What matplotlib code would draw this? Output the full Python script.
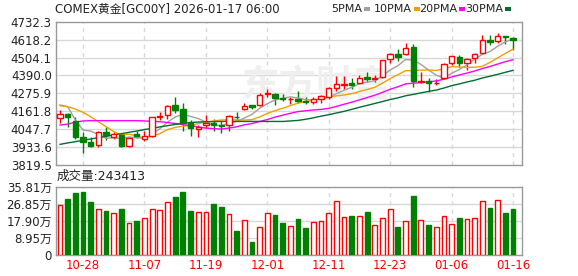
import numpy as np
import matplotlib
matplotlib.use("Agg")
import matplotlib.pyplot as plt
from matplotlib.patches import Rectangle

plt.rcParams['font.family'] = ['DejaVu Sans', 'Noto Sans CJK SC']

# ---------------- data ----------------
opens = [4117, 4144, 4102, 4000, 3968, 3947, 4032, 4000, 4011, 3942,
         4017, 3983, 4004, 4123, 4138, 4202, 4176, 4087, 4047, 4074,
         4085, 4074, 4074, 4127, 4174, 4202, 4202, 4270, 4272, 4244,
         4238, 4238, 4229, 4223, 4238, 4254, 4310, 4327, 4340, 4340,
         4378, 4365, 4378, 4493, 4524, 4526, 4569, 4348, 4356, 4342,
         4372, 4467, 4505, 4471, 4499, 4535, 4616, 4609, 4641, 4630]
highs = [4170, 4148, 4123, 4032, 4000, 4038, 4063, 4031, 4021, 3996,
         4036, 4038, 4127, 4159, 4202, 4251, 4212, 4104, 4075, 4138,
         4110, 4101, 4138, 4159, 4216, 4202, 4276, 4302, 4276, 4271,
         4254, 4293, 4250, 4254, 4267, 4314, 4384, 4386, 4372, 4391,
         4414, 4393, 4488, 4531, 4558, 4595, 4590, 4414, 4372, 4365,
         4471, 4514, 4520, 4499, 4535, 4648, 4648, 4662, 4641, 4637]
lows = [4085, 4060, 3983, 3898, 3934, 3936, 3979, 3983, 3936, 3936,
        3990, 3970, 4000, 4106, 4110, 4149, 4038, 4004, 4000, 4053,
        4038, 4021, 4038, 4101, 4170, 4174, 4195, 4251, 4202, 4229,
        4208, 4212, 4208, 4208, 4212, 4238, 4290, 4302, 4302, 4338,
        4350, 4350, 4372, 4467, 4482, 4520, 4318, 4340, 4286, 4329,
        4365, 4456, 4446, 4425, 4471, 4531, 4584, 4598, 4590, 4552]
closes = [4142, 4127, 4000, 3968, 3940, 4032, 4011, 4015, 3942, 3990,
          4004, 4004, 4123, 4132, 4197, 4170, 4089, 4058, 4064, 4085,
          4076, 4068, 4132, 4123, 4195, 4191, 4265, 4276, 4244, 4240,
          4242, 4229, 4221, 4240, 4261, 4308, 4337, 4335, 4329, 4376,
          4365, 4372, 4488, 4525, 4509, 4563, 4355, 4352, 4344, 4345,
          4463, 4514, 4471, 4492, 4526, 4616, 4605, 4641, 4633, 4616]
volumes = [262000, 293000, 325000, 330000, 277000, 239000, 230000, 220000, 241000, 167000,
           178000, 192000, 239000, 234000, 276000, 304000, 330000, 230000, 223000, 223000,
           267000, 251000, 213000, 126000, 182000, 68000, 145000, 220000, 209000, 169000,
           151000, 188000, 141000, 173000, 178000, 220000, 281000, 197000, 203000, 203000,
           225000, 155000, 192000, 239000, 147000, 176000, 309000, 182000, 157000, 145000,
           203000, 161000, 194000, 187000, 192000, 281000, 246000, 286000, 220000, 243413]

# moving-average values before a full window is visible
ma5_head = [4202, 4191, 4106, 4042]
ma10_head = [4197, 4191, 4176, 4155, 4127, 4095, 4064, 4032, 4011]
ma20_head = [4074, 4080, 4093, 4100, 4102, 4102, 4102, 4102, 4102, 4102,
             4102, 4100, 4098, 4095, 4090, 4084, 4077, 4070, 4062]
ma30_head = [3951, 3960, 3968, 3977, 3985, 3994, 4002, 4011, 4019, 4028,
             4036, 4045, 4053, 4062, 4070, 4078, 4085, 4090, 4093, 4095,
             4096, 4097, 4097, 4097, 4097, 4097, 4097, 4097, 4097]

tick_idx = [3, 11, 19, 27, 35, 43, 51, 59]
tick_labels = ['10-28', '11-07', '11-19', '12-01', '12-11', '12-23', '01-06', '01-16']

price_ticks = [3819.5, 3933.6, 4047.7, 4161.8, 4275.9, 4390.0, 4504.1, 4618.2, 4732.3]
vol_ticks = [0, 89500, 179000, 268500, 358100]
vol_tick_labels = ['0', '8.95万', '17.90万', '26.85万', '35.81万']

title = 'COMEX黄金[GC00Y] 2026-01-17 06:00'
vol_label = '成交量:243413'
ma_names = ['5PMA', '10PMA', '20PMA', '30PMA']

# ---------------- styling ----------------
RED = '#ff0000'
GREEN = '#008000'
MA_COLORS = ['#a0a0a0', '#f0a000', '#ff00ff', '#006e30']
GRID = '#d8d8d8'
SPINE = '#999999'
TXT = '#222222'

W, H = 578, 276
fig = plt.figure(figsize=(W / 100, H / 100), dpi=100)


def fx(px):
    return px / W


def fy(py):
    return 1 - py / H


ax = fig.add_axes([fx(56), fy(165), fx(522) - fx(56), fy(21.7) - fy(165)])
axv = fig.add_axes([fx(56), fy(255), fx(522) - fx(56), fy(186.7) - fy(255)])

n = len(closes)
x = np.arange(n)
o = np.array(opens, float)
h = np.array(highs, float)
l = np.array(lows, float)
c = np.array(closes, float)
up = c >= o
colors = [RED if u else GREEN for u in up]


def ma(head, k):
    vals = list(head)
    for i in range(len(head), n):
        vals.append(np.mean(c[i - k + 1:i + 1]))
    return np.array(vals)


mas = [ma(ma5_head, 5), ma(ma10_head, 10), ma(ma20_head, 20), ma(ma30_head, 30)]

xlim = (-0.52, 60.17)

# ---------------- price panel ----------------
for a in (ax, axv):
    a.set_xlim(*xlim)
    a.set_facecolor('white')
    for s in a.spines.values():
        s.set_color(SPINE)
        s.set_linewidth(1)
    for t in tick_idx:
        a.axvline(t, color=GRID, lw=1, ls=(0, (3, 3)), zorder=0.5)
    a.tick_params(axis='both', length=0, colors=TXT, labelsize=8.5, pad=3)

ax.set_ylim(price_ticks[0], price_ticks[-1])
ax.set_yticks(price_ticks)
ax.set_yticklabels([f'{v:.1f}' for v in price_ticks])
for v in price_ticks[1:-1]:
    ax.axhline(v, color=GRID, lw=1, zorder=0.5)
ax.set_xticks([])

# watermark
ax.text(0.56, 0.55, '东方财富', transform=ax.transAxes, fontsize=27,
        fontweight='bold', color='#efefef', ha='center', va='center',
        family=['Noto Sans CJK SC'], zorder=0.6)

bw = 0.7
ax.vlines(x, l, h, colors=colors, lw=1, zorder=2)
for i in range(n):
    bottom = min(o[i], c[i])
    height = max(abs(c[i] - o[i]), 1.0)
    fc = 'white' if up[i] else GREEN
    ax.add_patch(Rectangle((x[i] - bw / 2, bottom), bw, height,
                           facecolor=fc, edgecolor=colors[i], lw=1, zorder=3))

for m, col in zip(mas, MA_COLORS):
    ax.plot(x, m, color=col, lw=1, zorder=2.5)

# ---------------- volume panel ----------------
axv.set_ylim(vol_ticks[0], vol_ticks[-1])
axv.set_yticks(vol_ticks)
axv.set_yticklabels(vol_tick_labels)
for v in vol_ticks[1:-1]:
    axv.axhline(v, color=GRID, lw=1, zorder=0.5)
vb = 0.62
for i in range(n):
    fc = 'white' if up[i] else GREEN
    axv.add_patch(Rectangle((x[i] - vb / 2, 0), vb, volumes[i],
                            facecolor=fc, edgecolor=colors[i], lw=1, zorder=3))
axv.set_xticks(tick_idx)
axv.set_xticklabels(tick_labels)
axv.tick_params(axis='x', colors=RED, labelsize=8.5, pad=3)

# ---------------- texts ----------------
fig.text(fx(55), fy(9), title, fontsize=8.5, color=TXT, va='center', ha='left')
fig.text(fx(57), fy(176), vol_label, fontsize=9, color=TXT, va='center', ha='left')

marker_x = [364, 414, 459, 505]
for name, col, mx in zip(ma_names, MA_COLORS, marker_x):
    fig.text(fx(mx - 2), fy(9), name, fontsize=8, color=TXT, va='center', ha='right')
    fig.patches.append(Rectangle((fx(mx), fy(10.5)), fx(6), fy(7.5) - fy(10.5),
                                 transform=fig.transFigure, facecolor=col,
                                 edgecolor='none', figure=fig))

fig.savefig('out.png', dpi=100, facecolor='white')
